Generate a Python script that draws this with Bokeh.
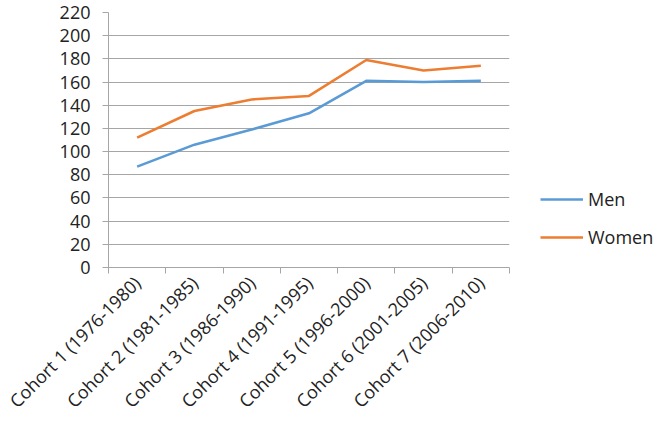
import math
from bokeh.plotting import figure
from bokeh.models import FixedTicker, Legend, LegendItem, Range1d
from bokeh.embed import file_html
from bokeh.resources import INLINE

cohorts = ["Cohort 1 (1976-1980)", "Cohort 2 (1981-1985)", "Cohort 3 (1986-1990)",
           "Cohort 4 (1991-1995)", "Cohort 5 (1996-2000)", "Cohort 6 (2001-2005)",
           "Cohort 7 (2006-2010)"]
men = [87, 106, 119, 133, 161, 160, 161]
women = [112, 135, 145, 148, 179, 170, 174]
y_ticks = list(range(0, 221, 20))

centers = [i + 0.5 for i in range(len(cohorts))]
bounds = list(range(len(cohorts) + 1))

FONT = "Open Sans"
TXT = "#222222"
GRID = "#A6A6A6"

p = figure(width=652, height=421, output_backend="svg", toolbar_location=None,
           x_range=Range1d(0, len(cohorts)), y_range=Range1d(0, 220),
           frame_width=401, frame_height=255,
           min_border_left=108, min_border_top=12, min_border_right=143, min_border_bottom=10)
p.outline_line_color = None
p.background_fill_color = "white"

r_men = p.line(centers, men, line_color="#5B9BD5", line_width=2.6)
r_women = p.line(centers, women, line_color="#ED7D31", line_width=2.6)

# x axis
p.xaxis.ticker = FixedTicker(ticks=centers, minor_ticks=bounds)
p.xaxis.major_label_overrides = {c: lab for c, lab in zip(centers, cohorts)}
p.xaxis.major_label_orientation = math.pi / 4
p.xaxis.major_tick_out = 0
p.xaxis.major_tick_in = 0
p.xaxis.minor_tick_out = 6
p.xaxis.minor_tick_in = 0
p.xaxis.minor_tick_line_color = GRID
p.xaxis.axis_line_color = GRID
p.xaxis.major_label_text_font = FONT
p.xaxis.major_label_text_font_size = "18px"
p.xaxis.major_label_text_color = TXT
p.xaxis.major_label_standoff = 6
p.xgrid.grid_line_color = None

# y axis
p.yaxis.ticker = FixedTicker(ticks=y_ticks)
p.yaxis.major_tick_out = 6
p.yaxis.major_tick_in = 0
p.yaxis.minor_tick_line_color = None
p.yaxis.major_tick_line_color = GRID
p.yaxis.axis_line_color = GRID
p.yaxis.major_label_text_font = FONT
p.yaxis.major_label_text_font_size = "18px"
p.yaxis.major_label_text_color = TXT
p.yaxis.major_label_standoff = 12
p.ygrid.grid_line_color = GRID
p.ygrid.grid_line_width = 1

legend = Legend(items=[LegendItem(label="Men", renderers=[r_men]),
                       LegendItem(label="Women", renderers=[r_women])],
                location=(31, 18), orientation="vertical",
                glyph_width=43, glyph_height=20, label_height=20, spacing=14,
                padding=0, margin=0, label_standoff=5,
                label_text_font=FONT, label_text_font_size="18px", label_text_color=TXT,
                border_line_color=None, background_fill_alpha=0)
p.add_layout(legend, "right")

open("out.html", "w").write(file_html(p, INLINE))
